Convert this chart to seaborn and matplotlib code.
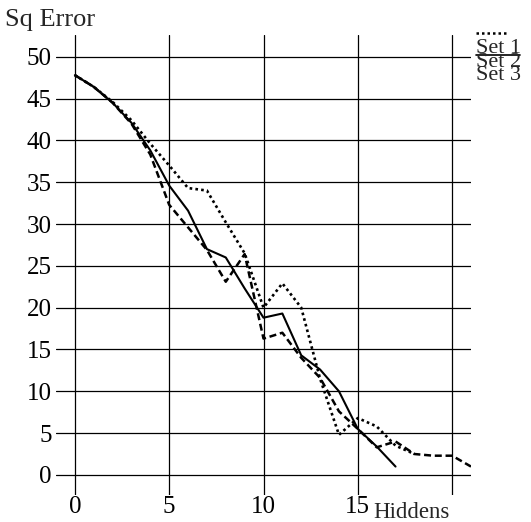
import matplotlib
matplotlib.use("Agg")
import matplotlib.pyplot as plt
import seaborn as sns
import pandas as pd
from matplotlib.lines import Line2D

# ---- data ----
set1_x = list(range(0, 18))
set1_y = [47.8, 46.4, 44.5, 42.1, 38.8, 34.6, 31.6, 27.0, 26.0, 22.3, 18.8, 19.3,
          14.3, 12.6, 10.0, 5.5, 3.4, 1.0]
set2_x = list(range(0, 19))
set2_y = [47.8, 46.4, 44.6, 42.4, 39.6, 37.0, 34.3, 34.0, 30.2, 26.5, 20.0, 22.9,
          20.0, 11.5, 4.8, 6.8, 5.8, 3.5, 2.5]
set3_x = list(range(0, 22))
set3_y = [47.8, 46.4, 44.5, 42.0, 38.3, 32.3, 29.6, 26.9, 23.1, 26.4, 16.3, 17.0,
          14.0, 11.6, 7.6, 5.5, 3.3, 4.0, 2.5, 2.3, 2.3, 1.0]
series_names = ["Set 1", "Set 2", "Set 3"]
x_ticks = [0, 5, 10, 15, 20]
x_tick_labels = ["0", "5", "10", "15", ""]
y_ticks = [0, 5, 10, 15, 20, 25, 30, 35, 40, 45, 50]
x_label = "Hiddens"
y_label = "Sq Error"

df = pd.concat([
    pd.DataFrame({"x": set1_x, "y": set1_y, "set": series_names[0]}),
    pd.DataFrame({"x": set2_x, "y": set2_y, "set": series_names[1]}),
    pd.DataFrame({"x": set3_x, "y": set3_y, "set": series_names[2]}),
])

sns.set_theme(style="white")
plt.rcParams["font.family"] = ["Liberation Serif", "DejaVu Serif"]

W, H = 531, 522
fig = plt.figure(figsize=(W / 100, H / 100), dpi=100)
ax = fig.add_axes([56 / W, (H - 495) / H, 415 / W, 460 / H])

styles = {"Set 1": "-", "Set 2": (0, (1.0, 1.2)), "Set 3": (0, (2.8, 1.5))}
widths = {"Set 1": 1.5, "Set 2": 1.9, "Set 3": 1.8}
for name in series_names:
    sub = df[df["set"] == name]
    sns.lineplot(data=sub, x="x", y="y", ax=ax, color="black", linewidth=widths[name],
                 linestyle=styles[name], legend=False, estimator=None)

ax.set_xlim(-1, 21)
ax.set_ylim(-2.4, 52.6)
ax.set_xticks(x_ticks)
ax.set_xticklabels(x_tick_labels)
ax.set_yticks(y_ticks)
for s in ax.spines.values():
    s.set_visible(False)
ax.grid(True, color="black", linewidth=0.9)
ax.set_axisbelow(True)
ax.tick_params(axis="both", length=0, labelsize=18, colors="black")
ax.tick_params(axis="y", pad=3)
ax.tick_params(axis="x", pad=1)
ax.set_xlabel("")
ax.set_ylabel("")

fig.text(5 / W, 1 - 9 / H, y_label, fontsize=19, ha="left", va="top")
fig.text(373 / W, 1 - 502 / H, x_label, fontsize=16.5, ha="left", va="top")

# legend (text stacked at top right with small line samples)
baselines = [53, 67, 80]
for name, b in zip(series_names, baselines):
    fig.text(476 / W, 1 - b / H, name, fontsize=16, ha="left", va="baseline")
fig.add_artist(Line2D([476 / W, 508 / W], [1 - 33 / H, 1 - 33 / H],
                      color="black", linewidth=1.8, linestyle=styles["Set 2"]))
fig.add_artist(Line2D([476 / W, 520 / W], [1 - 55 / H, 1 - 55 / H],
                      color="black", linewidth=1.2, linestyle="-"))

fig.savefig("out.png", dpi=100, facecolor="white")
